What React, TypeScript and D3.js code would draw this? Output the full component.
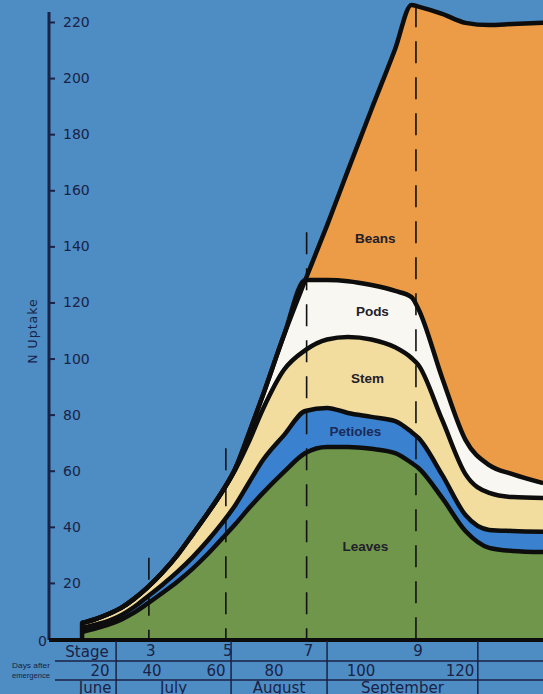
import React, { useEffect, useRef } from "react";
import * as d3 from "d3";

// days after emergence at which the curves were read
const days = [13.1, 18.5, 23.5, 28.3, 33.1, 38.1, 43.1, 48, 52.8, 57.5, 62.1, 66.7, 71.4, 76.2, 82.3, 87.2, 92.2, 97, 102.1, 106.9, 110.2, 111.6, 116.4, 121.1, 125.9, 130.6, 136.8];
// N uptake per plant part (stacked)
const leaves = [2.5, 3.8, 5.2, 7.0, 9.4, 12.5, 16.3, 20.5, 25.2, 30.4, 35.8, 41.0, 46.7, 52.1, 59.6, 66.3, 68.5, 68.5, 67.8, 66.3, 62.8, 61.0, 50.3, 38.5, 32.5, 31.4, 31.0];
const petioles = [1.4, 1.4, 1.4, 1.6, 2.0, 2.5, 2.9, 3.5, 4.1, 4.8, 5.5, 6.8, 9.1, 11.7, 13.1, 15.0, 13.9, 12.1, 11.4, 11.4, 11.0, 10.7, 8.2, 5.7, 6.4, 7.1, 7.2];
const stem = [1.8, 2.0, 2.4, 2.6, 2.9, 3.2, 4.3, 6.0, 8.2, 9.8, 11.2, 12.7, 14.7, 18.2, 23.3, 21.7, 24.4, 27.1, 27.6, 26.3, 26.4, 26.0, 19.6, 14.6, 13.2, 12.1, 12.1];
const pods = [0, 0, 0, 0, 0, 0, 0, 0, 0, 0, 0, 0.4, 3.0, 5.0, 12.4, 25.0, 21.2, 19.9, 19.4, 20.1, 21.7, 20.0, 15.0, 12.2, 9.9, 8.2, 5.3];
const beans = [0, 0, 0, 0, 0, 0, 0, 0, 0, 0, 0, 0, 0, 0, 0, 0, 19.5, 39.5, 62.6, 86.3, 104.2, 107.8, 129.8, 148.7, 156.9, 160.5, 164.1];

const layerNames = ["Leaves", "Petioles", "Stem", "Pods", "Beans"];
const labelDays = [100.9, 98.7, 101.3, 102.3, 102.9];
const labelValues = [33, 74, 93, 117, 143];

const yTicks = [20, 40, 60, 80, 100, 120, 140, 160, 180, 200, 220];
const stageNames = ["3", "5", "7", "9"];
const stageDays = [38.8, 63.4, 87.5, 111.1];
const stageLineTops = [29, 68, 145, 226];
const dayTicks = [20, 40, 60, 80, 100, 120];
const monthNames = ["June", "July", "August", "September"];
const monthBounds = [10, 26.2, 65.2, 92.2, 123.6];

const W = 543;
const H = 694;
const colors: Record<string, string> = {
  Leaves: "#6f964a",
  Petioles: "#3a82cf",
  Stem: "#f2dd9f",
  Pods: "#f8f7f1",
  Beans: "#ec9b46",
};
const ink = "#1a2246";
const font = "'DejaVu Sans', sans-serif";

export default function App() {
  const ref = useRef<SVGSVGElement>(null);

  useEffect(() => {
    const svg = d3.select(ref.current);
    svg.selectAll("*").remove();

    // hand drawn day axis, labels are spread unevenly
    const x = d3.scaleLinear().domain(dayTicks).range([100, 152, 216, 274, 361, 460]);
    const y = d3.scaleLinear().domain([0, 220]).range([639, 22]);

    svg.append("rect").attr("width", W).attr("height", H).attr("fill", "#4d8dc3");

    const rows = days.map((d, i) => ({
      day: d,
      Leaves: leaves[i],
      Petioles: petioles[i],
      Stem: stem[i],
      Pods: pods[i],
      Beans: beans[i],
    }));
    const series = d3.stack<any>().keys(layerNames)(rows);

    const area = d3
      .area<any>()
      .x((d) => x(d.data.day))
      .y0((d) => y(d[0]))
      .y1((d) => y(d[1]))
      .curve(d3.curveMonotoneX);

    svg
      .append("g")
      .selectAll("path")
      .data(series)
      .enter()
      .append("path")
      .attr("fill", (s) => colors[s.key])
      .attr("d", area);

    // stage lines
    svg
      .append("g")
      .selectAll("line")
      .data(stageDays)
      .enter()
      .append("line")
      .attr("x1", (d) => x(d))
      .attr("x2", (d) => x(d))
      .attr("y1", (d, i) => y(stageLineTops[i]))
      .attr("y2", y(0))
      .attr("stroke", "#111")
      .attr("stroke-width", 1.6)
      .attr("stroke-dasharray", "22,14");

    // black outlines on top of every layer
    const topLine = d3
      .line<any>()
      .x((d) => x(d.data.day))
      .y((d) => y(d[1]))
      .curve(d3.curveMonotoneX);

    svg
      .append("g")
      .selectAll("path")
      .data(series)
      .enter()
      .append("path")
      .attr("fill", "none")
      .attr("stroke", "#0d0d0d")
      .attr("stroke-width", 4.5)
      .attr("stroke-linejoin", "round")
      .attr("d", topLine);

    const last = series[series.length - 1];
    svg
      .append("line")
      .attr("x1", x(days[0]))
      .attr("x2", x(days[0]))
      .attr("y1", y(0))
      .attr("y2", y(last[0][1]))
      .attr("stroke", "#0d0d0d")
      .attr("stroke-width", 4.5)
      .attr("stroke-linecap", "round");

    // layer names
    svg
      .append("g")
      .selectAll("text")
      .data(layerNames)
      .enter()
      .append("text")
      .attr("x", (d, i) => x(labelDays[i]))
      .attr("y", (d, i) => y(labelValues[i]) + 5)
      .attr("text-anchor", "middle")
      .attr("font-family", "'Liberation Sans', Arial, sans-serif")
      .attr("font-weight", "bold")
      .attr("font-size", 13.5)
      .attr("fill", (d) => (d === "Petioles" ? "#1b2a5a" : "#22202a"))
      .text((d) => d);

    // y axis
    const yAxis = svg
      .append("g")
      .attr("transform", "translate(49,0)")
      .call(d3.axisRight(y).tickValues(yTicks).tickSize(6).tickPadding(8));
    yAxis.select(".domain").remove();
    yAxis.selectAll("line").attr("stroke", ink).attr("stroke-width", 2);
    yAxis
      .selectAll("text")
      .attr("fill", ink)
      .attr("font-family", font)
      .attr("font-size", 14);

    svg
      .append("line")
      .attr("x1", 49)
      .attr("x2", 49)
      .attr("y1", 12)
      .attr("y2", y(0) + 1)
      .attr("stroke", ink)
      .attr("stroke-width", 3);

    svg
      .append("text")
      .attr("x", 47)
      .attr("y", y(0) + 7)
      .attr("text-anchor", "end")
      .attr("fill", ink)
      .attr("font-family", font)
      .attr("font-size", 14)
      .text("0");

    svg
      .append("text")
      .attr("transform", "translate(37,331) rotate(-90)")
      .attr("text-anchor", "middle")
      .attr("fill", ink)
      .attr("font-family", font)
      .attr("font-size", 12.5)
      .attr("letter-spacing", 1)
      .text("N Uptake");

    // baseline
    svg
      .append("line")
      .attr("x1", 49)
      .attr("x2", W)
      .attr("y1", y(0) + 1)
      .attr("y2", y(0) + 1)
      .attr("stroke", "#0d0d0d")
      .attr("stroke-width", 4);

    // table under the chart
    const table = svg.append("g");
    [661, 680].forEach((ly) => {
      table
        .append("line")
        .attr("x1", 55)
        .attr("x2", W)
        .attr("y1", ly)
        .attr("y2", ly)
        .attr("stroke", ink)
        .attr("stroke-width", 1.5);
    });
    table
      .selectAll("line.vbar")
      .data(monthBounds.slice(1))
      .enter()
      .append("line")
      .attr("class", "vbar")
      .attr("x1", (d) => x(d))
      .attr("x2", (d) => x(d))
      .attr("y1", y(0) + 2)
      .attr("y2", H)
      .attr("stroke", ink)
      .attr("stroke-width", 1.5);

    const txt = (sel: any, size: number) =>
      sel
        .attr("text-anchor", "middle")
        .attr("fill", ink)
        .attr("font-family", font)
        .attr("font-size", size);

    txt(table.append("text").attr("x", 87).attr("y", 657).text("Stage"), 15);

    txt(
      table
        .selectAll("text.stage")
        .data(stageNames)
        .enter()
        .append("text")
        .attr("class", "stage")
        .attr("x", (d: string, i: number) => x(stageDays[i]) + 2)
        .attr("y", 656)
        .text((d: string) => d),
      15
    );

    txt(
      table
        .selectAll("text.day")
        .data(dayTicks)
        .enter()
        .append("text")
        .attr("class", "day")
        .attr("x", (d: number) => x(d))
        .attr("y", 676)
        .text((d: number) => d),
      15
    );

    txt(
      table
        .selectAll("text.month")
        .data(monthNames)
        .enter()
        .append("text")
        .attr("class", "month")
        .attr("x", (d: string, i: number) => (x(monthBounds[i]) + x(monthBounds[i + 1])) / 2)
        .attr("y", 693)
        .text((d: string) => d),
      15
    );

    ["Days after", "emergence"].forEach((t, i) => {
      table
        .append("text")
        .attr("x", 12)
        .attr("y", 668 + i * 10)
        .attr("fill", ink)
        .attr("font-family", "'Liberation Sans Narrow', 'Liberation Sans', sans-serif")
        .attr("font-size", 8)
        .attr("textLength", 38)
        .attr("lengthAdjust", "spacingAndGlyphs")
        .text(t);
    });
  }, []);

  return (
    <svg
      ref={ref}
      width={W}
      height={H}
      style={{ position: "absolute", left: 0, top: 0, display: "block" }}
    />
  );
}
